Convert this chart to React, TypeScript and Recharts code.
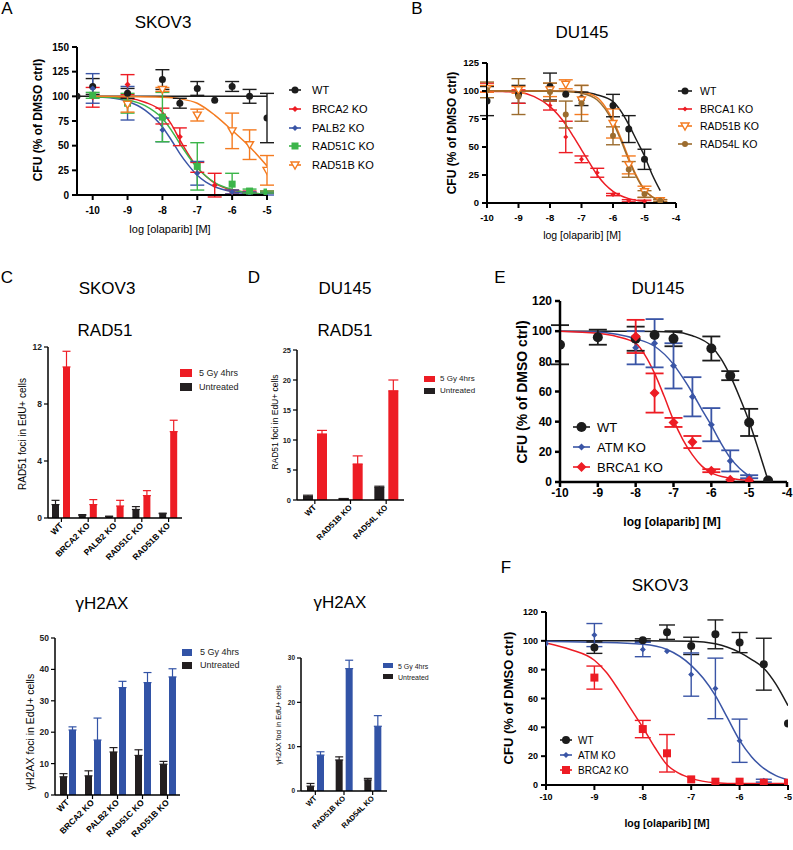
import React from "react";
import { ComposedChart, BarChart, Bar, Line, Scatter, XAxis, YAxis, ErrorBar } from "recharts";

const FONT = "'Liberation Sans', Arial, Helvetica, sans-serif";
const BLACK = "#1c1c1c";
const RED = "#ed1c24";
const BLUE = "#3a55a6";
const GREEN = "#3cb54a";
const ORANGE = "#f47b20";
const BROWN = "#9c6c2e";
const BAR_BLUE = "#3253a6";

type Pt = { x: number; y: number; e?: number };
type Kind = "circle" | "diamond" | "square" | "triDown";
type Series = { name: string; color: string; kind: Kind; size: number; pts: Pt[]; fit: Pt[] };

// ── Panel A: SKOV3 clonogenic ────────────────────────────────────────────
const aWtPts: Pt[] = [
  { x: -10.45, y: 100, e: 0 }, { x: -10, y: 110, e: 8 }, { x: -9, y: 103, e: 5 }, { x: -8, y: 117, e: 10 },
  { x: -7.5, y: 93, e: 5 }, { x: -7, y: 108, e: 7 }, { x: -6.5, y: 96, e: 0 }, { x: -6, y: 110, e: 5 },
  { x: -5.5, y: 100, e: 7 }, { x: -5, y: 78, e: 25 },
];
const aWtFit: Pt[] = [{ x: -10.45, y: 100 }, { x: -5, y: 100 }];
const aBrca2Pts: Pt[] = [
  { x: -10, y: 99, e: 10 }, { x: -9, y: 112, e: 10 }, { x: -8, y: 80, e: 8 }, { x: -7.5, y: 59, e: 9 },
  { x: -7, y: 28, e: 5 }, { x: -6.5, y: 10, e: 12 }, { x: -6, y: 3, e: 2 }, { x: -5.5, y: 3, e: 1 }, { x: -5, y: 3, e: 1 },
];
const aBrca2Fit: Pt[] = [
  { x: -10, y: 99.5 }, { x: -9, y: 98 }, { x: -8.5, y: 94 }, { x: -8, y: 84 }, { x: -7.75, y: 72 },
  { x: -7.5, y: 56 }, { x: -7.25, y: 41 }, { x: -7, y: 28 }, { x: -6.75, y: 19 }, { x: -6.5, y: 12 },
  { x: -6, y: 5 }, { x: -5.5, y: 2.3 }, { x: -5, y: 1 },
];
const aPalb2Pts: Pt[] = [
  { x: -10, y: 108, e: 15 }, { x: -9, y: 93, e: 17 }, { x: -8, y: 66, e: 12 }, { x: -7, y: 22, e: 12 },
  { x: -6, y: 3, e: 2 }, { x: -5.5, y: 2, e: 1 }, { x: -5, y: 1, e: 1 },
];
const aPalb2Fit: Pt[] = [
  { x: -10, y: 99.5 }, { x: -9.5, y: 98.5 }, { x: -9, y: 95 }, { x: -8.5, y: 86 }, { x: -8, y: 69 },
  { x: -7.75, y: 56 }, { x: -7.5, y: 42 }, { x: -7.25, y: 30 }, { x: -7, y: 20 }, { x: -6.75, y: 13 },
  { x: -6.5, y: 8.4 }, { x: -6, y: 3.4 }, { x: -5.5, y: 1.3 }, { x: -5, y: 0.5 },
];
const aRad51cPts: Pt[] = [
  { x: -10, y: 101, e: 3 }, { x: -9, y: 93, e: 10 }, { x: -8, y: 79, e: 25 }, { x: -7, y: 29, e: 24 },
  { x: -6, y: 11, e: 11 }, { x: -5.5, y: 4, e: 2 }, { x: -5, y: 3, e: 1 },
];
const aRad51cFit: Pt[] = [
  { x: -10, y: 99.7 }, { x: -9.5, y: 99 }, { x: -9, y: 96.5 }, { x: -8.5, y: 90.5 }, { x: -8, y: 77.5 },
  { x: -7.75, y: 66 }, { x: -7.5, y: 52 }, { x: -7.25, y: 39 }, { x: -7, y: 27.5 }, { x: -6.75, y: 19 },
  { x: -6.5, y: 12.5 }, { x: -6, y: 5.5 }, { x: -5.5, y: 2.2 }, { x: -5, y: 0.9 },
];
const aRad51bPts: Pt[] = [
  { x: -9, y: 92, e: 8 }, { x: -8, y: 107, e: 2 }, { x: -7, y: 81, e: 6 }, { x: -6, y: 65, e: 18 },
  { x: -5.5, y: 51, e: 15 }, { x: -5, y: 25, e: 15 },
];
const aRad51bFit: Pt[] = [
  { x: -10, y: 100 }, { x: -9, y: 99.8 }, { x: -8, y: 99 }, { x: -7.5, y: 97.5 }, { x: -7, y: 93 },
  { x: -6.5, y: 81 }, { x: -6, y: 65.5 }, { x: -5.5, y: 49 }, { x: -5, y: 29.5 },
];

// ── Panel B: DU145 clonogenic ────────────────────────────────────────────
const bWtPts: Pt[] = [
  { x: -10, y: 91, e: 13 }, { x: -9, y: 97, e: 8 }, { x: -8, y: 104, e: 12 }, { x: -7.5, y: 97, e: 0 },
  { x: -7, y: 93, e: 6 }, { x: -6, y: 87, e: 10 }, { x: -5.5, y: 66, e: 12 }, { x: -5, y: 39, e: 9 }, { x: -4.5, y: 1.5, e: 0 },
];
const bWtFit: Pt[] = [
  { x: -10, y: 100 }, { x: -8, y: 100 }, { x: -7.5, y: 99.8 }, { x: -7, y: 99 }, { x: -6.5, y: 96.5 },
  { x: -6, y: 90.5 }, { x: -5.75, y: 82 }, { x: -5.5, y: 70 }, { x: -5.25, y: 56 }, { x: -5, y: 42 },
  { x: -4.75, y: 25 }, { x: -4.5, y: 11 },
];
const bBrca1Pts: Pt[] = [
  { x: -10, y: 103, e: 4 }, { x: -9, y: 95, e: 6 }, { x: -8, y: 87, e: 4 }, { x: -7.5, y: 59, e: 14 },
  { x: -7, y: 39, e: 3 }, { x: -6.5, y: 27, e: 4 }, { x: -6, y: 7.5, e: 1 }, { x: -5.5, y: 2, e: 1 }, { x: -5, y: 1.5, e: 1 },
];
const bBrca1Fit: Pt[] = [
  { x: -10, y: 99.8 }, { x: -9.5, y: 99.5 }, { x: -9, y: 98.8 }, { x: -8.5, y: 95 }, { x: -8, y: 86 },
  { x: -7.75, y: 79 }, { x: -7.5, y: 70 }, { x: -7.25, y: 59 }, { x: -7, y: 47.5 }, { x: -6.75, y: 36 },
  { x: -6.5, y: 25 }, { x: -6.25, y: 16.5 }, { x: -6, y: 10.4 }, { x: -5.5, y: 3.9 }, { x: -5, y: 1.5 },
];
const bRad51bPts: Pt[] = [
  { x: -10, y: 102, e: 3 }, { x: -9, y: 101, e: 3 }, { x: -8, y: 101, e: 6 }, { x: -7.5, y: 106, e: 4 },
  { x: -7, y: 92, e: 13 }, { x: -6, y: 71, e: 13 }, { x: -5.5, y: 34, e: 8 }, { x: -5, y: 10, e: 5 }, { x: -4.5, y: 2, e: 1 },
];
const bRad51bFit: Pt[] = [
  { x: -10, y: 100 }, { x: -8, y: 99.9 }, { x: -7.5, y: 99.8 }, { x: -7, y: 99 }, { x: -6.5, y: 94 },
  { x: -6.25, y: 86 }, { x: -6, y: 74 }, { x: -5.75, y: 58 }, { x: -5.5, y: 40 }, { x: -5.25, y: 24 },
  { x: -5, y: 12 }, { x: -4.75, y: 5.5 }, { x: -4.5, y: 2.4 },
];
const bRad54lPts: Pt[] = [
  { x: -10, y: 101, e: 7 }, { x: -9, y: 95, e: 16 }, { x: -8, y: 99, e: 8 }, { x: -7.5, y: 79, e: 12 },
  { x: -7, y: 89, e: 16 }, { x: -6, y: 60, e: 8 }, { x: -5.5, y: 30, e: 7 }, { x: -5, y: 8, e: 3 }, { x: -4.5, y: 2, e: 1 },
];
const bRad54lFit: Pt[] = [
  { x: -10, y: 100 }, { x: -8, y: 99.8 }, { x: -7.5, y: 99.5 }, { x: -7, y: 98 }, { x: -6.5, y: 92 },
  { x: -6.25, y: 84 }, { x: -6, y: 72 }, { x: -5.75, y: 56 }, { x: -5.5, y: 38.5 }, { x: -5.25, y: 23 },
  { x: -5, y: 11.5 }, { x: -4.75, y: 5.3 }, { x: -4.5, y: 2.4 },
];

// ── Panel E: DU145 ATM / BRCA1 ───────────────────────────────────────────
const eWtPts: Pt[] = [
  { x: -10, y: 91, e: 13 }, { x: -9, y: 96, e: 5 }, { x: -8, y: 95, e: 8 }, { x: -7.5, y: 97.5, e: 0 },
  { x: -7, y: 95, e: 5 }, { x: -6, y: 88.5, e: 8 }, { x: -5.5, y: 70.5, e: 3 }, { x: -5, y: 39.5, e: 9 }, { x: -4.5, y: 1, e: 0 },
];
const eWtFit: Pt[] = [
  { x: -10, y: 100 }, { x: -8, y: 99.9 }, { x: -7, y: 99.5 }, { x: -6.5, y: 97 }, { x: -6, y: 90 },
  { x: -5.75, y: 82 }, { x: -5.5, y: 70.5 }, { x: -5.25, y: 56 }, { x: -5, y: 40 }, { x: -4.75, y: 21 }, { x: -4.5, y: 1 },
];
const eAtmPts: Pt[] = [
  { x: -8, y: 89, e: 11 }, { x: -7.5, y: 92, e: 16 }, { x: -7, y: 77, e: 15 }, { x: -6.5, y: 56.5, e: 13 },
  { x: -6, y: 38, e: 11 }, { x: -5.5, y: 14, e: 7 }, { x: -5, y: 3.5, e: 1 },
];
const eAtmFit: Pt[] = [
  { x: -10, y: 100 }, { x: -9, y: 99.5 }, { x: -8.5, y: 98 }, { x: -8, y: 95 }, { x: -7.5, y: 90 },
  { x: -7, y: 78 }, { x: -6.75, y: 69 }, { x: -6.5, y: 59 }, { x: -6.25, y: 48 }, { x: -6, y: 37.5 },
  { x: -5.75, y: 26 }, { x: -5.5, y: 16 }, { x: -5.25, y: 9 }, { x: -5, y: 4 },
];
const eBrca1Pts: Pt[] = [
  { x: -8, y: 96.5, e: 11 }, { x: -7.5, y: 59, e: 13 }, { x: -7, y: 39.5, e: 3 }, { x: -6.5, y: 26.5, e: 4 },
  { x: -6, y: 7.5, e: 1 }, { x: -5.5, y: 1.5, e: 0 }, { x: -5, y: 1, e: 0 },
];
const eBrca1Fit: Pt[] = [
  { x: -10, y: 100 }, { x: -9, y: 98.6 }, { x: -8.5, y: 96.5 }, { x: -8, y: 92 }, { x: -7.75, y: 84 },
  { x: -7.5, y: 72 }, { x: -7.25, y: 57 }, { x: -7, y: 41 }, { x: -6.75, y: 28 }, { x: -6.5, y: 18 },
  { x: -6.25, y: 10.5 }, { x: -6, y: 6 }, { x: -5.5, y: 2.5 }, { x: -5, y: 1 },
];

// ── Panel F: SKOV3 ATM / BRCA2 ───────────────────────────────────────────
const fWtPts: Pt[] = [
  { x: -9, y: 95.3, e: 4 }, { x: -8, y: 100.4, e: 1 }, { x: -7.5, y: 106, e: 5 }, { x: -7, y: 96.5, e: 6 },
  { x: -6.5, y: 104.5, e: 10 }, { x: -6, y: 98.8, e: 7 }, { x: -5.5, y: 83.8, e: 18 }, { x: -5, y: 42.7, e: 0 },
];
const fWtFit: Pt[] = [
  { x: -10, y: 100 }, { x: -8, y: 100 }, { x: -7, y: 99.7 }, { x: -6.5, y: 98 }, { x: -6, y: 92 },
  { x: -5.75, y: 87 }, { x: -5.5, y: 81 }, { x: -5.25, y: 70 }, { x: -5, y: 55 },
];
const fAtmPts: Pt[] = [
  { x: -10, y: 98, e: 0 }, { x: -9, y: 104, e: 8 }, { x: -8, y: 94, e: 5 }, { x: -7.5, y: 92.8, e: 0 },
  { x: -7, y: 76.6, e: 15 }, { x: -6.5, y: 67, e: 21 }, { x: -6, y: 30.7, e: 15 }, { x: -5.5, y: 3, e: 1 }, { x: -5, y: 2, e: 0 },
];
const fAtmFit: Pt[] = [
  { x: -10, y: 99.7 }, { x: -9, y: 99 }, { x: -8, y: 97.6 }, { x: -7.5, y: 94 }, { x: -7, y: 83 },
  { x: -6.75, y: 74 }, { x: -6.5, y: 62 }, { x: -6.25, y: 46.5 }, { x: -6, y: 31 }, { x: -5.75, y: 19.5 },
  { x: -5.5, y: 11.5 }, { x: -5.25, y: 6.5 }, { x: -5, y: 3.5 },
];
const fBrca2Pts: Pt[] = [
  { x: -9, y: 74.5, e: 8 }, { x: -8, y: 38.8, e: 6 }, { x: -7.5, y: 22, e: 13 }, { x: -7, y: 3.9, e: 0 },
  { x: -6.5, y: 2.3, e: 0 }, { x: -6, y: 2.3, e: 0 }, { x: -5.5, y: 1.6, e: 0 }, { x: -5, y: 1.6, e: 0 },
];
const fBrca2Fit: Pt[] = [
  { x: -10, y: 98.5 }, { x: -9.5, y: 94 }, { x: -9, y: 86.5 }, { x: -8.75, y: 78 }, { x: -8.5, y: 66 },
  { x: -8.25, y: 53 }, { x: -8, y: 40 }, { x: -7.75, y: 26 }, { x: -7.5, y: 14 }, { x: -7.25, y: 8 },
  { x: -7, y: 4.6 }, { x: -6.5, y: 1.6 }, { x: -6, y: 1 }, { x: -5, y: 1 },
];

// ── Panels C / D: foci bars ──────────────────────────────────────────────
const cCats = ["WT", "BRCA2 KO", "PALB2 KO", "RAD51C KO", "RAD51B KO"];
const cRadIrr = [10.6, 0.94, 0.84, 1.57, 6.06];
const cRadIrrErr = [1.1, 0.35, 0.4, 0.35, 0.8];
const cRadUnt = [0.94, 0.19, 0.1, 0.6, 0.3];
const cRadUntErr = [0.3, 0.05, 0.03, 0.2, 0.04];
const cH2Irr = [20.7, 17.5, 34.2, 35.8, 37.6];
const cH2IrrErr = [1, 7, 2, 3.2, 2.6];
const cH2Unt = [5.8, 6.1, 13.7, 12.6, 9.8];
const cH2UntErr = [1, 1.6, 1.4, 1.8, 0.9];

const dCats = ["WT", "RAD51B KO", "RAD54L KO"];
const dRadIrr = [11, 6, 18.2];
const dRadIrrErr = [0.6, 1.35, 1.8];
const dRadUnt = [0.6, 0.2, 2.1];
const dRadUntErr = [0.2, 0.05, 0.2];
const dH2Irr = [8.1, 27.6, 14.6];
const dH2IrrErr = [0.75, 1.9, 2.4];
const dH2Unt = [1.1, 7.0, 2.5];
const dH2UntErr = [0.6, 0.7, 0.35];

const seriesA: Series[] = [
  { name: "WT", color: BLACK, kind: "circle", size: 7, pts: aWtPts, fit: aWtFit },
  { name: "BRCA2 KO", color: RED, kind: "diamond", size: 6, pts: aBrca2Pts, fit: aBrca2Fit },
  { name: "PALB2 KO", color: BLUE, kind: "diamond", size: 6, pts: aPalb2Pts, fit: aPalb2Fit },
  { name: "RAD51C KO", color: GREEN, kind: "square", size: 7, pts: aRad51cPts, fit: aRad51cFit },
  { name: "RAD51B KO", color: ORANGE, kind: "triDown", size: 8, pts: aRad51bPts, fit: aRad51bFit },
];
const seriesB: Series[] = [
  { name: "WT", color: BLACK, kind: "circle", size: 7, pts: bWtPts, fit: bWtFit },
  { name: "BRCA1 KO", color: RED, kind: "diamond", size: 5, pts: bBrca1Pts, fit: bBrca1Fit },
  { name: "RAD51B KO", color: ORANGE, kind: "triDown", size: 8, pts: bRad51bPts, fit: bRad51bFit },
  { name: "RAD54L KO", color: BROWN, kind: "circle", size: 6, pts: bRad54lPts, fit: bRad54lFit },
];
const seriesE: Series[] = [
  { name: "WT", color: BLACK, kind: "circle", size: 10, pts: eWtPts, fit: eWtFit },
  { name: "ATM KO", color: BLUE, kind: "diamond", size: 7, pts: eAtmPts, fit: eAtmFit },
  { name: "BRCA1 KO", color: RED, kind: "diamond", size: 10, pts: eBrca1Pts, fit: eBrca1Fit },
];
const seriesF: Series[] = [
  { name: "WT", color: BLACK, kind: "circle", size: 8, pts: fWtPts, fit: fWtFit },
  { name: "ATM KO", color: BLUE, kind: "diamond", size: 6, pts: fAtmPts, fit: fAtmFit },
  { name: "BRCA2 KO", color: RED, kind: "square", size: 8, pts: fBrca2Pts, fit: fBrca2Fit },
];

function drawMarker(kind: Kind, color: string, s: number, cx: number, cy: number) {
  const h = s / 2;
  if (kind === "circle") return <circle cx={cx} cy={cy} r={h} fill={color} />;
  if (kind === "square") return <rect x={cx - h} y={cy - h} width={s} height={s} fill={color} />;
  if (kind === "diamond")
    return <path d={`M${cx},${cy - h}L${cx + h},${cy}L${cx},${cy + h}L${cx - h},${cy}Z`} fill={color} />;
  return (
    <path
      d={`M${cx - h},${cy - h * 0.75}L${cx + h},${cy - h * 0.75}L${cx},${cy + h}Z`}
      fill="#fff" stroke={color} strokeWidth={1.4}
    />
  );
}

const shapeFor = (s: Series) => (p: any) => {
  if (p.cx == null || p.cy == null) return <g />;
  return drawMarker(s.kind, s.color, s.size, p.cx, p.cy);
};

type Rect = { x0: number; x1: number; y0: number; y1: number };

function CurvePanel(props: {
  rect: Rect; xDomain: number[]; xTicks: number[]; yDomain: number[]; yTicks: number[];
  series: Series[]; tickFs: number; axisW: number; capW: number; errW: number; xTickMargin: number;
}) {
  const { rect, series, tickFs, axisW } = props;
  const padL = 50, padR = 12, padT = 12, padB = 30;
  const w = rect.x1 - rect.x0 + padL + padR;
  const h = rect.y1 - rect.y0 + padT + padB;
  const tick = { fontSize: tickFs, fontWeight: 700, fill: "#000", fontFamily: FONT };
  const axisLine = { stroke: "#000", strokeWidth: axisW };
  return (
    <div style={{ position: "absolute", left: rect.x0 - padL, top: rect.y0 - padT }}>
      <ComposedChart width={w} height={h} margin={{ top: padT, right: padR, bottom: 0, left: 0 }}>
        <XAxis
          type="number" dataKey="x" domain={props.xDomain} ticks={props.xTicks} allowDataOverflow interval={0}
          height={padB} axisLine={axisLine} tickLine={axisLine} tickSize={5} tickMargin={props.xTickMargin} tick={tick}
        />
        <YAxis
          type="number" dataKey="y" domain={props.yDomain} ticks={props.yTicks} allowDataOverflow interval={0}
          width={padL} axisLine={axisLine} tickLine={axisLine} tickSize={5} tickMargin={3} tick={tick}
        />
        {series.map((s) => (
          <Line
            key={s.name + "-fit"} data={s.fit} dataKey="y" type="monotone" stroke={s.color}
            strokeWidth={1.5} dot={false} activeDot={false} isAnimationActive={false}
          />
        ))}
        {series.map((s) => (
          <Scatter key={s.name} data={s.pts} dataKey="y" shape={shapeFor(s)} isAnimationActive={false}>
            <ErrorBar dataKey="e" direction="y" width={props.capW} stroke={s.color} strokeWidth={props.errW} />
          </Scatter>
        ))}
      </ComposedChart>
    </div>
  );
}

const rotTick = (fs: number) => (p: any) => {
  const { x, y, payload } = p;
  return (
    <g transform={`translate(${x},${y})`}>
      <text
        x={0} y={0} dy={fs * 0.35} transform="rotate(-45)" textAnchor="end"
        fontSize={fs} fontWeight={700} fontFamily={FONT} fill="#000"
      >
        {payload.value}
      </text>
    </g>
  );
};

function BarPanel(props: {
  rect: Rect; cats: string[]; unt: number[]; untErr: number[]; irr: number[]; irrErr: number[];
  color: string; yMax: number; yTicks: number[]; barSize: number; barGap: number;
  tickFs: number; catFs: number; capW: number;
}) {
  const { rect } = props;
  const data = props.cats.map((c, i) => ({
    c, u: props.unt[i], ue: [0, props.untErr[i]], r: props.irr[i], re: [0, props.irrErr[i]],
  }));
  const padL = 34, padR = 6, padT = 8, padB = 70;
  const w = rect.x1 - rect.x0 + padL + padR;
  const h = rect.y1 - rect.y0 + padT + padB;
  const axisLine = { stroke: "#000", strokeWidth: 1.5 };
  return (
    <div style={{ position: "absolute", left: rect.x0 - padL, top: rect.y0 - padT }}>
      <BarChart
        width={w} height={h} data={data} barSize={props.barSize} barGap={props.barGap}
        margin={{ top: padT, right: padR, bottom: 0, left: 0 }}
      >
        <XAxis
          dataKey="c" type="category" interval={0} height={padB} axisLine={axisLine}
          tickLine={{ stroke: "#000", strokeWidth: 1.2 }} tickSize={4} tickMargin={2} tick={rotTick(props.catFs)}
        />
        <YAxis
          type="number" domain={[0, props.yMax]} ticks={props.yTicks} allowDataOverflow interval={0} width={padL}
          axisLine={axisLine} tickLine={{ stroke: "#000", strokeWidth: 1.2 }} tickSize={4} tickMargin={2}
          tick={{ fontSize: props.tickFs, fontWeight: 700, fill: "#222", fontFamily: FONT }}
        />
        <Bar dataKey="u" fill="#231f20" isAnimationActive={false}>
          <ErrorBar dataKey="ue" direction="y" width={props.capW} stroke="#231f20" strokeWidth={1.2} />
        </Bar>
        <Bar dataKey="r" fill={props.color} isAnimationActive={false}>
          <ErrorBar dataKey="re" direction="y" width={props.capW} stroke={props.color} strokeWidth={1.2} />
        </Bar>
      </BarChart>
    </div>
  );
}

function Txt(p: { x: number; y: number; fs: number; bold?: boolean; rot?: boolean; children: React.ReactNode }) {
  return (
    <div
      style={{
        position: "absolute", left: p.x, top: p.y, fontSize: p.fs, fontWeight: p.bold ? 700 : 400,
        whiteSpace: "nowrap", lineHeight: 1,
        transform: `translate(-50%,-50%)${p.rot ? " rotate(-90deg)" : ""}`,
      }}
    >
      {p.children}
    </div>
  );
}

function CurveLegend(p: { left: number; top: number; gap: number; lineW: number; textGap: number; fs: number; series: Series[] }) {
  return (
    <>
      {p.series.map((s, i) => (
        <div
          key={s.name}
          style={{
            position: "absolute", left: p.left, top: p.top + i * p.gap - 8, height: 16,
            display: "flex", alignItems: "center", fontSize: p.fs, whiteSpace: "nowrap",
          }}
        >
          <svg width={p.lineW} height={16} style={{ overflow: "visible" }}>
            <line x1={0} x2={p.lineW} y1={8} y2={8} stroke={s.color} strokeWidth={1.6} />
            {drawMarker(s.kind, s.color, s.size, p.lineW / 2, 8)}
          </svg>
          <span style={{ marginLeft: p.textGap }}>{s.name}</span>
        </div>
      ))}
    </>
  );
}

function BarLegend(p: { left: number; top: number; gap: number; sw: number; sh: number; textLeft: number; fs: number; color: string }) {
  const rows = [
    { label: "5 Gy 4hrs", color: p.color },
    { label: "Untreated", color: "#231f20" },
  ];
  return (
    <>
      {rows.map((r, i) => (
        <React.Fragment key={r.label}>
          <div
            style={{
              position: "absolute", left: p.left, top: p.top + i * p.gap - p.sh / 2,
              width: p.sw, height: p.sh, background: r.color,
            }}
          />
          <div
            style={{
              position: "absolute", left: p.textLeft, top: p.top + i * p.gap, fontSize: p.fs,
              lineHeight: 1, transform: "translateY(-50%)", whiteSpace: "nowrap", color: "#222",
            }}
          >
            {r.label}
          </div>
        </React.Fragment>
      ))}
    </>
  );
}

export default function App() {
  return (
    <div
      style={{
        position: "absolute", left: 0, top: 0, width: 793, height: 850, background: "#fff",
        fontFamily: FONT, color: "#000", overflow: "hidden",
      }}
    >
      {/* panel letters */}
      <Txt x={7} y={8} fs={17}>A</Txt>
      <Txt x={417} y={8} fs={17}>B</Txt>
      <Txt x={7} y={277} fs={17}>C</Txt>
      <Txt x={254} y={277} fs={17}>D</Txt>
      <Txt x={500} y={277} fs={17}>E</Txt>
      <Txt x={506} y={567} fs={17}>F</Txt>

      {/* A */}
      <Txt x={163} y={22} fs={17}>SKOV3</Txt>
      <CurvePanel
        rect={{ x0: 77, x1: 267, y0: 47, y1: 195 }} xDomain={[-10.45, -5]} xTicks={[-10, -9, -8, -7, -6, -5]}
        yDomain={[0, 150]} yTicks={[0, 25, 50, 75, 100, 125, 150]} series={seriesA}
        tickFs={10} axisW={2} capW={7} errW={1.4} xTickMargin={7}
      />
      <Txt x={38} y={120} fs={12} bold rot>CFU (% of DMSO ctrl)</Txt>
      <Txt x={170} y={229} fs={11}>log [olaparib] [M]</Txt>
      <CurveLegend left={289} top={90} gap={18.8} lineW={12} textGap={11} fs={11} series={seriesA} />

      {/* B */}
      <Txt x={582} y={32} fs={17}>DU145</Txt>
      <CurvePanel
        rect={{ x0: 487, x1: 676, y0: 63, y1: 203 }} xDomain={[-10, -4]} xTicks={[-10, -9, -8, -7, -6, -5, -4]}
        yDomain={[0, 125]} yTicks={[0, 25, 50, 75, 100, 125]} series={seriesB}
        tickFs={9.5} axisW={2} capW={7} errW={1.4} xTickMargin={6}
      />
      <Txt x={452} y={133} fs={12} bold rot>CFU (% of DMSO ctrl)</Txt>
      <Txt x={582} y={235} fs={10.5}>log [olaparib] [M]</Txt>
      <CurveLegend left={678} top={91} gap={17.7} lineW={14} textGap={8} fs={10.5} series={seriesB} />

      {/* C top */}
      <Txt x={107} y={288} fs={17}>SKOV3</Txt>
      <Txt x={105} y={330} fs={17}>RAD51</Txt>
      <BarPanel
        rect={{ x0: 48, x1: 182, y0: 347, y1: 518 }} cats={cCats} unt={cRadUnt} untErr={cRadUntErr}
        irr={cRadIrr} irrErr={cRadIrrErr} color={RED} yMax={12} yTicks={[0, 4, 8, 12]}
        barSize={7} barGap={4} tickFs={8.5} catFs={8.5} capW={4}
      />
      <Txt x={23} y={434} fs={10} rot>RAD51 foci in EdU+ cells</Txt>
      <BarLegend left={180} top={373} gap={14} sw={12} sh={8} textLeft={199} fs={9} color={RED} />

      {/* D top */}
      <Txt x={345} y={288} fs={17}>DU145</Txt>
      <Txt x={345} y={330} fs={17}>RAD51</Txt>
      <BarPanel
        rect={{ x0: 297, x1: 404, y0: 350, y1: 500 }} cats={dCats} unt={dRadUnt} untErr={dRadUntErr}
        irr={dRadIrr} irrErr={dRadIrrErr} color={RED} yMax={25} yTicks={[0, 5, 10, 15, 20, 25]}
        barSize={10} barGap={4} tickFs={7.5} catFs={8} capW={5}
      />
      <Txt x={275} y={422} fs={8.5} rot>RAD51 foci in EdU+ cells</Txt>
      <BarLegend left={424} top={379} gap={11.5} sw={11} sh={6} textLeft={440} fs={8} color={RED} />

      {/* C bottom */}
      <Txt x={102} y={603} fs={17}>γH2AX</Txt>
      <BarPanel
        rect={{ x0: 55, x1: 180, y0: 638, y1: 795 }} cats={cCats} unt={cH2Unt} untErr={cH2UntErr}
        irr={cH2Irr} irrErr={cH2IrrErr} color={BAR_BLUE} yMax={50} yTicks={[0, 10, 20, 30, 40, 50]}
        barSize={7} barGap={2} tickFs={8.5} catFs={8.5} capW={4}
      />
      <Txt x={30} y={732} fs={10.5} rot>γH2AX foci in EdU+ cells</Txt>
      <BarLegend left={182} top={652} gap={13} sw={10} sh={7} textLeft={200} fs={9} color={BAR_BLUE} />

      {/* D bottom */}
      <Txt x={340} y={602} fs={17}>γH2AX</Txt>
      <BarPanel
        rect={{ x0: 301, x1: 387, y0: 658, y1: 791 }} cats={dCats} unt={dH2Unt} untErr={dH2UntErr}
        irr={dH2Irr} irrErr={dH2IrrErr} color={BAR_BLUE} yMax={30} yTicks={[0, 10, 20, 30]}
        barSize={7} barGap={3} tickFs={6.5} catFs={7.5} capW={4}
      />
      <Txt x={279} y={725} fs={7.2} rot>γH2AX foci in EdU+ cells</Txt>
      <BarLegend left={383} top={665.5} gap={11} sw={10} sh={5} textLeft={398} fs={7} color={BAR_BLUE} />

      {/* E */}
      <Txt x={658} y={288} fs={17}>DU145</Txt>
      <CurvePanel
        rect={{ x0: 560, x1: 787, y0: 301, y1: 482 }} xDomain={[-10, -4]} xTicks={[-10, -9, -8, -7, -6, -5, -4]}
        yDomain={[0, 120]} yTicks={[0, 20, 40, 60, 80, 100, 120]} series={seriesE}
        tickFs={12} axisW={2.5} capW={9} errW={1.8} xTickMargin={1}
      />
      <Txt x={522} y={392} fs={14} bold rot>CFU (% of DMSO ctrl)</Txt>
      <Txt x={672} y={522} fs={12} bold>log [olaparib] [M]</Txt>
      <CurveLegend left={573} top={427} gap={20} lineW={17} textGap={7} fs={13} series={seriesE} />

      {/* F */}
      <Txt x={660} y={585} fs={17}>SKOV3</Txt>
      <CurvePanel
        rect={{ x0: 546, x1: 788, y0: 612, y1: 785 }} xDomain={[-10, -5]} xTicks={[-10, -9, -8, -7, -6, -5]}
        yDomain={[0, 120]} yTicks={[0, 20, 40, 60, 80, 100, 120]} series={seriesF}
        tickFs={9} axisW={2} capW={8} errW={1.4} xTickMargin={4}
      />
      <Txt x={508} y={698} fs={13} bold rot>CFU (% of DMSO ctrl)</Txt>
      <Txt x={667} y={823} fs={10.5} bold>log [olaparib] [M]</Txt>
      <CurveLegend left={560} top={740} gap={15} lineW={12} textGap={6} fs={10} series={seriesF} />
    </div>
  );
}
